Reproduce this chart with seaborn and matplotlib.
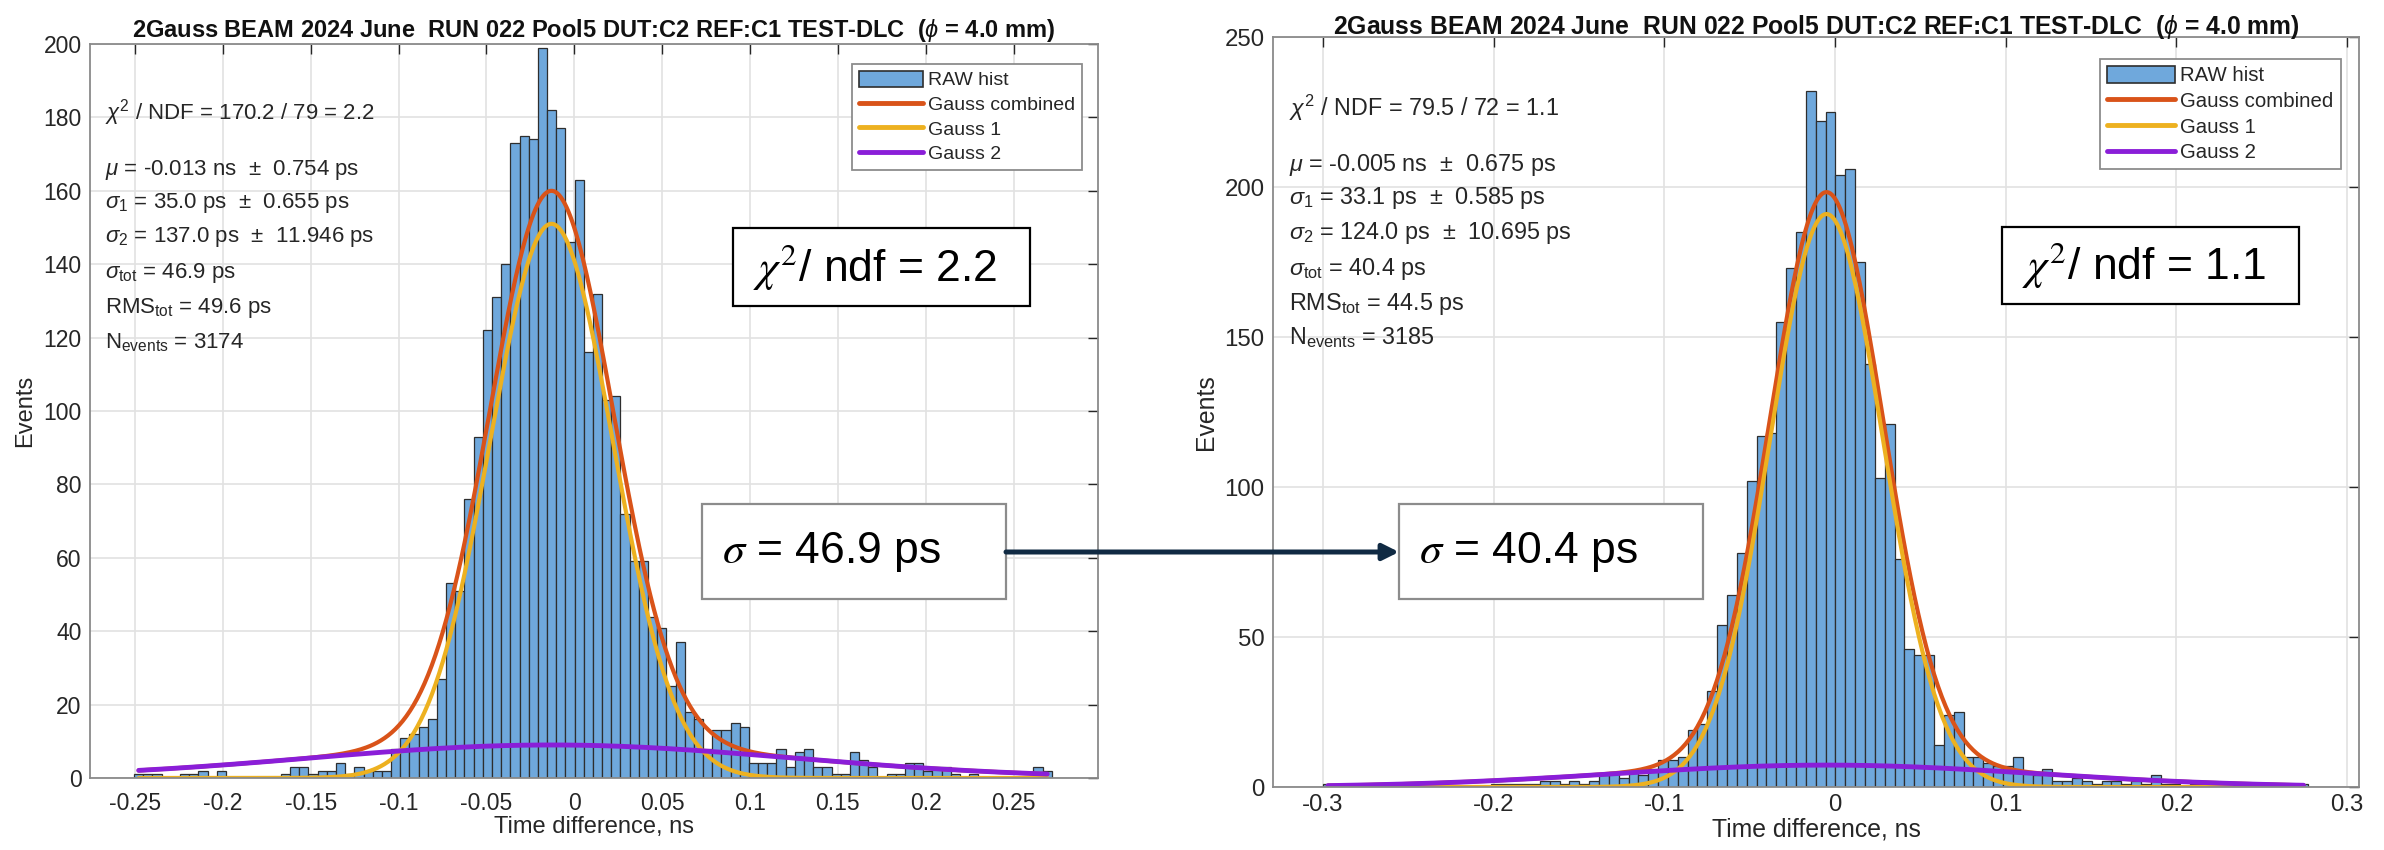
import numpy as np
import pandas as pd
import matplotlib
matplotlib.use('Agg')
import matplotlib.pyplot as plt
import seaborn as sns
from matplotlib.patches import Rectangle, Patch, FancyArrowPatch
from matplotlib.lines import Line2D

# ---- data ----
left_bin_start, left_bin_width = -0.2505, 0.005222
left_counts = [1, 1, 1, 0, 0, 1, 1, 2, 0, 2,
               0, 0, 0, 0, 0, 0, 1, 3, 3, 1,
               2, 2, 4, 1, 3, 2, 2, 2, 8, 11,
               12, 14, 16, 27, 53, 51, 76, 93, 122, 131,
               140, 173, 175, 174, 199, 182, 177, 146, 163, 116,
               132, 103, 104, 72, 59, 59, 44, 41, 25, 37,
               18, 16, 8, 13, 13, 15, 14, 4, 4, 4,
               8, 3, 7, 8, 3, 3, 1, 1, 7, 5,
               3, 0, 1, 1, 4, 4, 2, 3, 3, 1,
               0, 1, 0, 0, 0, 0, 0, 0, 3, 2]

right_bin_start, right_bin_width = -0.300, 0.005774
right_counts = [1, 0, 0, 0, 0, 0, 0, 0, 0, 0,
                0, 0, 0, 0, 0, 0, 0, 1, 1, 1,
                1, 1, 2, 2, 1, 2, 1, 2, 4, 5,
                3, 5, 4, 6, 9, 9, 10, 19, 21, 32,
                54, 64, 78, 102, 117, 118, 155, 173, 185, 232,
                222, 225, 204, 206, 175, 141, 103, 121, 76, 46,
                44, 44, 14, 24, 25, 10, 10, 8, 7, 7,
                10, 5, 4, 6, 2, 2, 3, 2, 1, 2,
                2, 1, 2, 1, 4, 1, 1, 0, 1, 1,
                1, 0, 1, 0, 1, 0, 0, 0, 0, 1]

# fit parameters (mu, sigma1, sigma2 in ns; amplitudes in events)
left_fit = [-0.013, 0.035, 0.137, 151.0, 9.0]
right_fit = [-0.005, 0.0331, 0.124, 191.0, 7.3]

left_ticks = [-0.25, -0.2, -0.15, -0.1, -0.05, 0, 0.05, 0.1, 0.15, 0.2, 0.25]
left_ticklabels = ['-0.25', '-0.2', '-0.15', '-0.1', '-0.05', '0', '0.05', '0.1', '0.15', '0.2', '0.25']
right_ticks = [-0.3, -0.2, -0.1, 0, 0.1, 0.2, 0.3]
right_ticklabels = ['-0.3', '-0.2', '-0.1', '0', '0.1', '0.2', '0.3']

title = r'2Gauss BEAM 2024 June  RUN 022 Pool5 DUT:C2 REF:C1 TEST-DLC  ($\phi$ = 4.0 mm)'

left_stats = [r'$\chi^2$ / NDF = 170.2 / 79 = 2.2',
              r'$\mu$ = -0.013 ns  ±  0.754 ps',
              r'$\sigma_1$ = 35.0 ps  ±  0.655 ps',
              r'$\sigma_2$ = 137.0 ps  ±  11.946 ps',
              r'$\sigma_{\rm tot}$ = 46.9 ps',
              r'RMS$_{\rm tot}$ = 49.6 ps',
              r'N$_{\rm events}$ = 3174']
right_stats = [r'$\chi^2$ / NDF = 79.5 / 72 = 1.1',
               r'$\mu$ = -0.005 ns  ±  0.675 ps',
               r'$\sigma_1$ = 33.1 ps  ±  0.585 ps',
               r'$\sigma_2$ = 124.0 ps  ±  10.695 ps',
               r'$\sigma_{\rm tot}$ = 40.4 ps',
               r'RMS$_{\rm tot}$ = 44.5 ps',
               r'N$_{\rm events}$ = 3185']

legend_labels = ['RAW hist', 'Gauss combined', 'Gauss 1', 'Gauss 2']

BAR = '#6fa8dc'
ORANGE = '#d95319'
YELLOW = '#edb120'
PURPLE = '#8a1ed8'
TXT = '#262626'

sns.set_theme(style='white')
plt.rcParams['font.family'] = ['Liberation Sans', 'DejaVu Sans']
plt.rcParams['mathtext.fontset'] = 'custom'
plt.rcParams['mathtext.rm'] = 'Liberation Sans'
plt.rcParams['mathtext.it'] = 'Liberation Sans:italic'
plt.rcParams['mathtext.bf'] = 'Liberation Sans:bold'

W, H = 2384, 850
fig = plt.figure(figsize=(W / 100, H / 100), dpi=100)
fig.patch.set_facecolor('white')


def fx(px):
    return px / W


def fy(py):
    return 1 - py / H


def gauss(x, a, mu, s):
    return a * np.exp(-(x - mu) ** 2 / (2 * s ** 2))


def draw_panel(ax, counts, start, width, fit, xlim, ylim, ticks, ticklabels,
               yticks, stats, stats_x, stats_y, legend_anchor, scale, title_pad, xpad):
    counts = np.array(counts, dtype=float)
    edges = start + width * np.arange(len(counts) + 1)
    centers = 0.5 * (edges[:-1] + edges[1:])
    df = pd.DataFrame({'t': centers, 'n': counts})
    sns.histplot(data=df, x='t', weights='n', bins=edges.tolist(), ax=ax, color=BAR,
                 edgecolor='#2e2e2e', linewidth=0.9, alpha=1)

    mu, s1, s2, a1, a2 = fit
    xs = np.linspace(edges[0] + width / 2, edges[-1] - width / 2, 500)
    g1 = gauss(xs, a1, mu, s1)
    g2 = gauss(xs, a2, mu, s2)
    sns.lineplot(x=xs, y=g1 + g2, ax=ax, color=ORANGE, lw=3, sort=False, estimator=None)
    sns.lineplot(x=xs, y=g1, ax=ax, color=YELLOW, lw=3, sort=False, estimator=None)
    sns.lineplot(x=xs, y=g2, ax=ax, color=PURPLE, lw=3.5, sort=False, estimator=None)

    ax.set_xlim(*xlim)
    ax.set_ylim(*ylim)
    ax.set_xticks(ticks)
    ax.set_xticklabels(ticklabels)
    ax.set_yticks(yticks)
    ax.set_yticklabels([str(v) for v in yticks])
    ax.grid(True, color='#e2e2e2', lw=1.2)
    ax.set_axisbelow(True)
    for s in ax.spines.values():
        s.set_color('#8a8a8a')
        s.set_linewidth(1.3)
    ax.tick_params(direction='in', length=7, width=1, top=True, right=True,
                   labelsize=16.5 * scale, colors=TXT)
    ax.tick_params(axis='x', pad=xpad)
    ax.tick_params(axis='y', pad=6)
    ax.set_xlabel('Time difference, ns', fontsize=17 * scale, color=TXT, labelpad=1)
    ax.set_ylabel('Events', fontsize=17 * scale, color=TXT, labelpad=5)
    ax.set_title(title, fontsize=17 * scale, fontweight='bold', color='#111111', pad=title_pad)

    for line, yy in zip(stats, stats_y):
        fig.text(fx(stats_x), fy(yy), line, fontsize=16 * scale,
                 color=TXT, va='center', ha='left')

    handles = [Patch(facecolor=BAR, edgecolor='#2e2e2e', lw=1.2),
               Line2D([], [], color=ORANGE, lw=3.5),
               Line2D([], [], color=YELLOW, lw=3.5),
               Line2D([], [], color=PURPLE, lw=3.5)]
    leg = ax.legend(handles, legend_labels, loc='upper right', bbox_to_anchor=legend_anchor,
                    fontsize=14 * scale, frameon=True, fancybox=False, framealpha=1,
                    edgecolor='#8c8c8c', handlelength=3.3, handleheight=0.9,
                    labelspacing=0.3, borderpad=0.35, handletextpad=0.27,
                    borderaxespad=0)
    leg.get_frame().set_linewidth(1.3)
    for t in leg.get_texts():
        t.set_color(TXT)


ax1 = fig.add_axes([fx(90), fy(778), (1098 - 90) / W, (778 - 44) / H])
ax2 = fig.add_axes([fx(1273), fy(787), (2359 - 1273) / W, (787 - 37) / H])

draw_panel(ax1, left_counts, left_bin_start, left_bin_width, left_fit,
           (-0.2756, 0.298), (0, 200), left_ticks, left_ticklabels,
           list(range(0, 201, 20)), left_stats, 105,
           [113, 170, 203, 237, 273, 308, 343], (0.984, 0.973), 1.0, 5, 10)
draw_panel(ax2, right_counts, right_bin_start, right_bin_width, right_fit,
           (-0.3293, 0.307), (0, 250), right_ticks, right_ticklabels,
           list(range(0, 251, 50)), right_stats, 1289,
           [108, 165, 198, 233, 269, 304, 338], (0.983, 0.971), 1.05, 2, 5)


def box(x0, y0, x1, y1, text, edge):
    fig.add_artist(Rectangle((fx(x0), fy(y1)), (x1 - x0) / W, (y1 - y0) / H,
                             transform=fig.transFigure, facecolor='white',
                             edgecolor=edge, lw=1.6, zorder=5))
    fig.text(fx(x0 + 20), fy((y0 + y1) / 2), text, fontsize=32, color='black',
             ha='left', va='center', math_fontfamily='stix', zorder=6)


box(733, 228, 1030, 306, r'$\chi^2$/ ndf = 2.2', 'black')
box(2002, 227, 2299, 304, r'$\chi^2$/ ndf = 1.1', 'black')
box(702, 504, 1006, 599, r'$\sigma$ = 46.9 ps', '#8c8c8c')
box(1399, 504, 1703, 599, r'$\sigma$ = 40.4 ps', '#8c8c8c')

fig.add_artist(FancyArrowPatch((fx(1006), fy(552)), (fx(1399), fy(552)),
                               transform=fig.transFigure, arrowstyle='-|>',
                               mutation_scale=24, color='#102a43', lw=3.6,
                               shrinkA=0, shrinkB=0, zorder=7))

fig.savefig('out.png', dpi=100)
